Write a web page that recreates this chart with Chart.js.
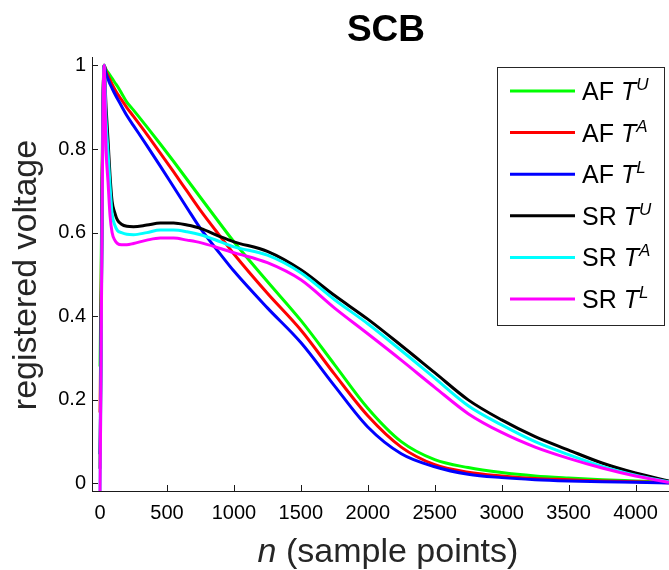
<!DOCTYPE html>
<html><head><meta charset="utf-8">
<script src="https://cdn.jsdelivr.net/npm/chart.js@4.4.0/dist/chart.umd.min.js"></script>
<style>html,body{margin:0;padding:0;background:#fff;}#wrap{width:669px;height:570px;}</style>
</head><body><div id="wrap"><canvas id="c" width="669" height="570"></canvas></div>
<script>
// ---- data ----
const sampleN = [0,30,45,60,75,90,110,130,160,200,250,350,450,550,650,750,900,1000,1250,1500,1750,2000,2250,2500,2750,3000,3250,3500,3750,4000,4250];
const afTU = [0.28,1.0,0.99,0.983,0.976,0.969,0.959,0.95,0.934,0.912,0.893,0.853,0.812,0.77,0.727,0.684,0.62,0.578,0.483,0.39,0.285,0.18,0.1,0.057,0.038,0.026,0.018,0.013,0.009,0.006,0.003];
const afTA = [0.17,1.0,0.985,0.975,0.965,0.955,0.943,0.932,0.918,0.899,0.878,0.835,0.79,0.745,0.699,0.653,0.59,0.549,0.455,0.367,0.262,0.162,0.087,0.045,0.027,0.018,0.012,0.009,0.006,0.004,0.002];
const afTL = [0.07,1.0,0.98,0.967,0.955,0.945,0.932,0.92,0.903,0.88,0.856,0.808,0.759,0.709,0.659,0.61,0.548,0.508,0.42,0.337,0.234,0.135,0.071,0.04,0.022,0.014,0.009,0.006,0.004,0.003,0.001];
const srTU = [0.035,1.0,0.9,0.82,0.735,0.675,0.648,0.63,0.62,0.615,0.614,0.618,0.623,0.623,0.618,0.61,0.59,0.578,0.555,0.511,0.45,0.393,0.33,0.265,0.2,0.152,0.112,0.08,0.049,0.025,0.006];
const srTA = [-0.02,1.0,0.87,0.79,0.71,0.645,0.618,0.605,0.6,0.596,0.595,0.6,0.606,0.606,0.602,0.595,0.578,0.566,0.546,0.504,0.44,0.382,0.318,0.252,0.186,0.14,0.1,0.069,0.041,0.02,0.004];
const srTL = [-0.02,1.0,0.8,0.72,0.64,0.6,0.582,0.574,0.571,0.571,0.574,0.582,0.587,0.587,0.582,0.576,0.562,0.552,0.528,0.487,0.42,0.358,0.295,0.23,0.167,0.122,0.087,0.06,0.037,0.018,0.003];
const seriesGroups = ['AF','AF','AF','SR','SR','SR'];
const seriesSups = ['U','A','L','U','A','L'];
const xTickValues = [0,500,1000,1500,2000,2500,3000,3500,4000];
const yTickValues = [0,0.2,0.4,0.6,0.8,1];
const yTickLabels = ['0','0.2','0.4','0.6','0.8','1'];
const chartTitle = 'SCB';
const xTitleVar = 'n';
const xTitleRest = ' (sample points)';
const yTitle = 'registered voltage';

// ---- styles ----
const seriesValues = [afTU, afTA, afTL, srTU, srTA, srTL];
const seriesColors = ['#00ff00','#ff0000','#0000ff','#000000','#00ffff','#ff00ff'];
const FONT = "'Liberation Sans', Arial, Helvetica, sans-serif";
const AXIS_COLOR = '#1a1a1a';

const datasets = seriesValues.map((vals, i) => ({
  label: seriesGroups[i] + ' T' + seriesSups[i],
  data: sampleN.map((n, k) => ({x: n, y: vals[k]})),
  borderColor: seriesColors[i],
  backgroundColor: seriesColors[i],
  borderWidth: 3,
  pointRadius: 0,
  fill: false,
  cubicInterpolationMode: 'monotone',
  order: seriesValues.length - i
}));

const decor = {
  id: 'decor',
  beforeDatasetsDraw(chart) {
    const ctx = chart.ctx, xs = chart.scales.x, ys = chart.scales.y, a = chart.chartArea;
    ctx.save();
    ctx.strokeStyle = AXIS_COLOR; ctx.lineWidth = 1;
    ctx.beginPath();
    xTickValues.forEach(v => { const p = Math.round(xs.getPixelForValue(v)) + 0.5; ctx.moveTo(p, a.bottom); ctx.lineTo(p, a.bottom - 6); });
    yTickValues.forEach(v => { const p = Math.round(ys.getPixelForValue(v)) + 0.5; ctx.moveTo(a.left, p); ctx.lineTo(a.left + 6, p); });
    ctx.stroke();
    ctx.restore();
  },
  afterDraw(chart) {
    const ctx = chart.ctx;
    ctx.save();
    ctx.fillStyle = '#000';
    // title
    ctx.font = 'bold 37px ' + FONT;
    ctx.textAlign = 'center'; ctx.textBaseline = 'alphabetic';
    ctx.fillText(chartTitle, 386, 41);
    // x title
    ctx.textAlign = 'left';
    ctx.font = 'italic 34px ' + FONT;
    const w1 = ctx.measureText(xTitleVar).width;
    ctx.font = '34px ' + FONT;
    const w2 = ctx.measureText(xTitleRest).width;
    let sx = 388 - (w1 + w2) / 2;
    ctx.fillStyle = '#262626';
    ctx.font = 'italic 34px ' + FONT; ctx.fillText(xTitleVar, sx, 562);
    ctx.font = '34px ' + FONT; ctx.fillText(xTitleRest, sx + w1, 562);
    // y title
    ctx.save();
    ctx.translate(36, 275); ctx.rotate(-Math.PI / 2);
    ctx.textAlign = 'center'; ctx.font = '34px ' + FONT;
    ctx.fillText(yTitle, 0, 0);
    ctx.restore();
    // legend
    const lx = 497, ly = 67, lw = 167, lh = 258;
    ctx.fillStyle = '#fff'; ctx.fillRect(lx, ly, lw, lh);
    ctx.strokeStyle = '#262626'; ctx.lineWidth = 1;
    ctx.strokeRect(lx + 0.5, ly + 0.5, lw, lh);
    chart.data.datasets.forEach((ds, i) => {
      const y = 91 + i * 41.6;
      ctx.strokeStyle = ds.borderColor; ctx.lineWidth = 3;
      ctx.beginPath(); ctx.moveTo(510, y); ctx.lineTo(575, y); ctx.stroke();
      ctx.fillStyle = '#000'; ctx.textAlign = 'left';
      const base = y + 9;
      ctx.font = '25px ' + FONT;
      const g = seriesGroups[i] + ' ';
      ctx.fillText(g, 582, base);
      let x = 582 + ctx.measureText(g).width;
      ctx.font = 'italic 25px ' + FONT;
      ctx.fillText('T', x, base);
      x += ctx.measureText('T').width;
      ctx.font = 'italic 17px ' + FONT;
      ctx.fillText(seriesSups[i], x, base - 10);
    });
    ctx.restore();
  }
};

new Chart(document.getElementById('c'), {
  type: 'line',
  data: { datasets },
  options: {
    responsive: false, animation: false, devicePixelRatio: 1,
    layout: { padding: { top: 57, left: 0, right: 0, bottom: 0 } },
    plugins: { legend: { display: false }, title: { display: false }, tooltip: { enabled: false } },
    scales: {
      x: {
        type: 'linear', min: -60, max: 4250,
        afterBuildTicks: s => { s.ticks = xTickValues.map(v => ({ value: v })); },
        afterFit: s => { s.height = 79; },
        grid: { display: false, drawTicks: false },
        border: { display: true, color: AXIS_COLOR, width: 1 },
        ticks: { autoSkip: false, maxRotation: 0, padding: 10, color: '#000', font: { size: 20, family: FONT }, callback: v => String(v) }
      },
      y: {
        type: 'linear', min: -0.018, max: 1.02,
        afterBuildTicks: s => { s.ticks = yTickValues.map(v => ({ value: v })); },
        afterFit: s => { s.width = 92; },
        grid: { display: false, drawTicks: false },
        border: { display: true, color: AXIS_COLOR, width: 1 },
        ticks: { autoSkip: false, padding: 6, color: '#000', font: { size: 20, family: FONT }, callback: (v, i) => yTickLabels[i] }
      }
    }
  },
  plugins: [decor]
});
</script></body></html>
